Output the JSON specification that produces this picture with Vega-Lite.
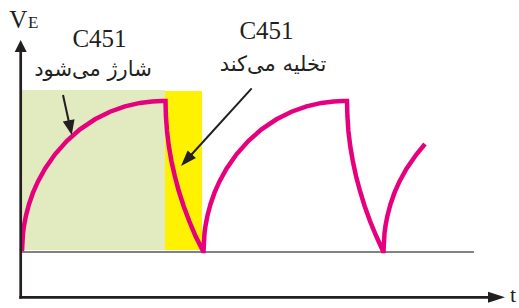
{
  "$schema": "https://vega.github.io/schema/vega-lite/v6.json",
  "width": 519,
  "height": 308,
  "autosize": {"type": "fit", "contains": "padding"},
  "padding": 0,
  "background": "white",
  "config": {"view": {"stroke": null}},
  "datasets": {
    "zones": [
      {"t": 0, "t2": 144, "V": 2, "V2": 162, "zone": "charge"},
      {"t": 144, "t2": 181, "V": 2, "V2": 161, "zone": "discharge"}
    ],
    "baseline": [{"t": 0, "t2": 453, "V": 0, "V2": 0}],
    "curve": [
      {"i": 1, "t": 1, "V": 1}, {"i": 2, "t": 2, "V": 18.9}, {"i": 3, "t": 3, "V": 26.3}, {"i": 4, "t": 5, "V": 36.6},
      {"i": 5, "t": 8, "V": 47.8}, {"i": 6, "t": 12, "V": 59.3}, {"i": 7, "t": 17, "V": 70.6}, {"i": 8, "t": 24, "V": 83.4},
      {"i": 9, "t": 34, "V": 97.7}, {"i": 10, "t": 46, "V": 111.2}, {"i": 11, "t": 59, "V": 122.6}, {"i": 12, "t": 74, "V": 132.7},
      {"i": 13, "t": 89, "V": 140.3}, {"i": 14, "t": 104, "V": 145.7}, {"i": 15, "t": 119, "V": 149.1}, {"i": 16, "t": 131, "V": 150.6},
      {"i": 17, "t": 141, "V": 151}, {"i": 18, "t": 144.5, "V": 151},
      {"i": 19, "t": 144.9, "V": 136}, {"i": 20, "t": 146, "V": 121}, {"i": 21, "t": 147.8, "V": 106}, {"i": 22, "t": 150.4, "V": 91},
      {"i": 23, "t": 153.8, "V": 76}, {"i": 24, "t": 157.8, "V": 61}, {"i": 25, "t": 162.6, "V": 46}, {"i": 26, "t": 168.2, "V": 31},
      {"i": 27, "t": 174.5, "V": 16}, {"i": 28, "t": 182, "V": 1},
      {"i": 29, "t": 182.5, "V": 1}, {"i": 30, "t": 183.5, "V": 18.9}, {"i": 31, "t": 184.5, "V": 26.3}, {"i": 32, "t": 186.5, "V": 36.6},
      {"i": 33, "t": 189.5, "V": 47.8}, {"i": 34, "t": 193.5, "V": 59.3}, {"i": 35, "t": 198.5, "V": 70.6}, {"i": 36, "t": 205.5, "V": 83.4},
      {"i": 37, "t": 215.5, "V": 97.7}, {"i": 38, "t": 227.5, "V": 111.2}, {"i": 39, "t": 240.5, "V": 122.6}, {"i": 40, "t": 255.5, "V": 132.7},
      {"i": 41, "t": 270.5, "V": 140.3}, {"i": 42, "t": 285.5, "V": 145.7}, {"i": 43, "t": 300.5, "V": 149.1}, {"i": 44, "t": 312.5, "V": 150.6},
      {"i": 45, "t": 322.5, "V": 151}, {"i": 46, "t": 326, "V": 151},
      {"i": 47, "t": 326.4, "V": 136}, {"i": 48, "t": 327.4, "V": 121}, {"i": 49, "t": 329.2, "V": 106}, {"i": 50, "t": 331.8, "V": 91},
      {"i": 51, "t": 335, "V": 76}, {"i": 52, "t": 339, "V": 61}, {"i": 53, "t": 343.6, "V": 46}, {"i": 54, "t": 349, "V": 31},
      {"i": 55, "t": 355.2, "V": 16}, {"i": 56, "t": 362, "V": 1},
      {"i": 57, "t": 362.5, "V": 1}, {"i": 58, "t": 363.5, "V": 18.9}, {"i": 59, "t": 364.5, "V": 26.3}, {"i": 60, "t": 366.5, "V": 36.6},
      {"i": 61, "t": 369.5, "V": 47.8}, {"i": 62, "t": 373.5, "V": 59.3}, {"i": 63, "t": 378.5, "V": 70.6}, {"i": 64, "t": 385.5, "V": 83.4},
      {"i": 65, "t": 395.5, "V": 97.7}, {"i": 66, "t": 404, "V": 108}
    ],
    "pointers": [
      {"t": 42, "V": 157, "t2": 49, "V2": 125},
      {"t": 230.7, "V": 163.7, "t2": 166, "V2": 92.5}
    ],
    "head1": [{"t": 49.2, "V": 124.3}],
    "head2": [{"t": 165.4, "V": 91.9}],
    "axes": [
      {"t": -0.3, "V": -45.3, "t2": -0.3, "V2": 201},
      {"t": -0.3, "V": -45.3, "t2": 469, "V2": -45.3}
    ],
    "yhead": [{"t": -0.3, "V": 206}],
    "xhead": [{"t": 475.5, "V": -45.3}],
    "labels": [
      {"t": 78.5, "V": 205.3, "label": "C451"},
      {"t": 245.5, "V": 213, "label": "C451"}
    ],
    "persian": [
      {"t": 72, "V": 176, "label": "شارژ می‌شود"},
      {"t": 252, "V": 181, "label": "تخلیه می‌کند"}
    ],
    "vlabel": [{"t": -11.7, "V": 223.7, "label": "V"}],
    "elabel": [{"t": 7, "V": 223.7, "label": "E"}],
    "tlabel": [{"t": 489, "V": -50, "label": "t"}]
  },
  "encoding": {
    "x": {"field": "t", "type": "quantitative", "scale": {"domain": [-21, 498], "nice": false, "zero": false}, "axis": null},
    "y": {"field": "V", "type": "quantitative", "scale": {"domain": [-56, 252], "nice": false, "zero": false}, "axis": null}
  },
  "layer": [
    {
      "data": {"name": "zones"},
      "mark": {"type": "rect"},
      "encoding": {
        "x2": {"field": "t2"},
        "y2": {"field": "V2"},
        "color": {"field": "zone", "type": "nominal", "scale": {"domain": ["charge", "discharge"], "range": ["#e2ebc0", "#fff200"]}, "legend": null}
      }
    },
    {
      "data": {"name": "baseline"},
      "mark": {"type": "rule", "stroke": "#58595b", "strokeWidth": 1.5},
      "encoding": {"x2": {"field": "t2"}, "y2": {"field": "V2"}}
    },
    {
      "data": {"name": "curve"},
      "mark": {"type": "line", "stroke": "#e6007e", "strokeWidth": 4.5, "strokeJoin": "miter", "strokeCap": "butt"},
      "encoding": {"order": {"field": "i", "type": "quantitative"}}
    },
    {
      "data": {"name": "pointers"},
      "mark": {"type": "rule", "stroke": "#231f20", "strokeWidth": 2},
      "encoding": {"x2": {"field": "t2"}, "y2": {"field": "V2"}}
    },
    {
      "data": {"name": "head1"},
      "mark": {"type": "point", "shape": "M0,-1L0.8,1L-0.8,1Z", "size": 225, "angle": 168.2, "filled": true, "fill": "#231f20", "opacity": 1, "strokeWidth": 0}
    },
    {
      "data": {"name": "head2"},
      "mark": {"type": "point", "shape": "M0,-1L0.7,1L-0.7,1Z", "size": 256, "angle": 222.3, "filled": true, "fill": "#231f20", "opacity": 1, "strokeWidth": 0}
    },
    {
      "data": {"name": "axes"},
      "mark": {"type": "rule", "stroke": "#231f20", "strokeWidth": 2.7, "strokeCap": "square"},
      "encoding": {"x2": {"field": "t2"}, "y2": {"field": "V2"}}
    },
    {
      "data": {"name": "yhead"},
      "mark": {"type": "point", "shape": "M0,-1L1,1L-1,1Z", "size": 144, "filled": true, "fill": "#231f20", "opacity": 1, "strokeWidth": 0}
    },
    {
      "data": {"name": "xhead"},
      "mark": {"type": "point", "shape": "M1,0L-1,0.65L-1,-0.65Z", "size": 289, "filled": true, "fill": "#231f20", "opacity": 1, "strokeWidth": 0}
    },
    {
      "data": {"name": "labels"},
      "mark": {"type": "text", "font": "Liberation Serif", "fontSize": 25, "align": "center", "baseline": "alphabetic", "color": "#231f20"},
      "encoding": {"text": {"field": "label"}}
    },
    {
      "data": {"name": "persian"},
      "mark": {"type": "text", "font": "DejaVu Sans", "fontSize": 21, "align": "center", "baseline": "alphabetic", "color": "#231f20"},
      "encoding": {"text": {"field": "label"}}
    },
    {
      "data": {"name": "vlabel"},
      "mark": {"type": "text", "font": "Liberation Serif", "fontSize": 25, "align": "left", "baseline": "alphabetic", "color": "#231f20"},
      "encoding": {"text": {"field": "label"}}
    },
    {
      "data": {"name": "elabel"},
      "mark": {"type": "text", "font": "Liberation Serif", "fontSize": 17, "align": "left", "baseline": "alphabetic", "color": "#231f20"},
      "encoding": {"text": {"field": "label"}}
    },
    {
      "data": {"name": "tlabel"},
      "mark": {"type": "text", "font": "Liberation Serif", "fontSize": 22, "align": "left", "baseline": "alphabetic", "color": "#231f20"},
      "encoding": {"text": {"field": "label"}}
    }
  ]
}
